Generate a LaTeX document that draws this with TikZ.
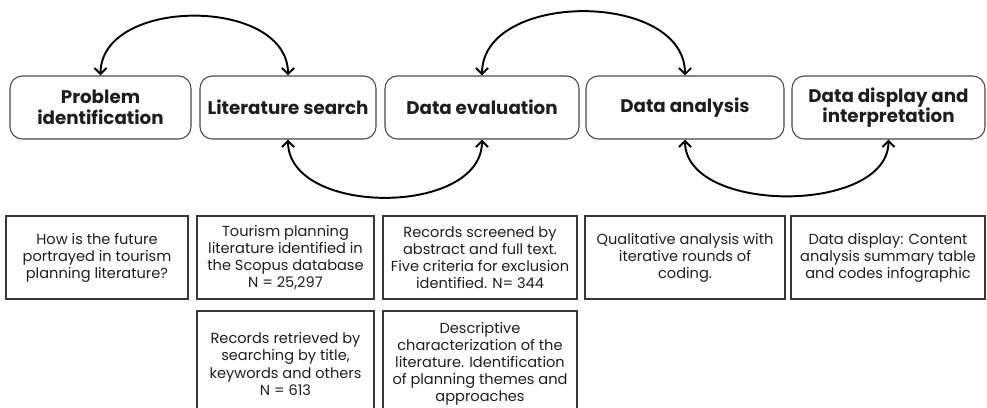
\documentclass[tikz,border=0pt]{standalone}
\usepackage{fontspec}
\setmainfont{Poppins}
\definecolor{stageline}{RGB}{70,70,70}
\definecolor{noteline}{RGB}{55,55,55}
\definecolor{inktext}{RGB}{30,30,30}
\usetikzlibrary{arrows.meta,positioning}

\begin{document}
\begin{tikzpicture}[x=0.02cm, y=0.02cm,
  stage/.style={draw=stageline, line width=0.6pt, rounded corners=7pt, minimum height=63*0.02cm, align=center, text=inktext, font=\fontsize{10.4}{11.6}\selectfont\bfseries, inner sep=0pt},
  note/.style={draw=noteline, line width=0.8pt, minimum height=83*0.02cm, align=center, text=inktext, font=\fontsize{8.3}{9.7}\selectfont, inner sep=0pt},
  loop/.style={{Straight Barb[length=3.5pt,width=7pt]}-{Straight Barb[length=3.5pt,width=7pt]}, line width=1.1pt, black}]
  \clip (0,0) rectangle (987,407);

  % Stages
  \node[stage, minimum width=181*0.02cm] (prob) at (100.5,299.5) {Problem\\identification};
  \node[stage, minimum width=176*0.02cm] (lit) at (288,299.5) {Literature search};
  \node[stage, minimum width=194*0.02cm] (eval) at (482,299.5) {Data evaluation};
  \node[stage, minimum width=198*0.02cm] (anal) at (685,299.5) {Data analysis};
  \node[stage, minimum width=193*0.02cm] (disp) at (888.5,299.5) {Data display and\\interpretation};

  % Loops between stages
  \draw[loop] (prob.north) .. controls +(0,79) and +(0,79) .. (lit.north);
  \draw[loop] (eval.north) .. controls +(0,85) and +(0,85) .. (anal.north);
  \draw[loop] (lit.south) .. controls +(0,-77) and +(0,-77) .. (eval.south);
  \draw[loop] (anal.south) .. controls +(0,-75) and +(0,-75) .. (disp.south);

  % Descriptions, first row
  \node[note, minimum width=182*0.02cm] (probnote) at (97,149.5) {How is the future\\portrayed in tourism\\planning literature?};
  \node[note, minimum width=177*0.02cm] (litnote) at (285.5,149.5) {Tourism planning\\literature identified in\\the Scopus database\\N = 25,297};
  \node[note, minimum width=194*0.02cm] (evalnote) at (480,149.5) {Records screened by\\abstract and full text.\\Five criteria for exclusion\\identified. N= 344};
  \node[note, minimum width=200*0.02cm] (analnote) at (685,149.5) {Qualitative analysis with\\iterative rounds of\\coding.};
  \node[note, minimum width=194*0.02cm] (dispnote) at (888,149.5) {Data display: Content\\analysis summary table\\and codes infographic};

  % Descriptions, second row
  \node[note, minimum width=177*0.02cm, minimum height=106*0.02cm] (litnote2) at (285.5,43) {Records retrieved by\\searching by title,\\keywords and others\\N = 613};
  \node[note, minimum width=194*0.02cm, minimum height=106*0.02cm] (evalnote2) at (480,43) {Descriptive\\characterization of the\\literature. Identification\\of planning themes and\\approaches};
\end{tikzpicture}
\end{document}
